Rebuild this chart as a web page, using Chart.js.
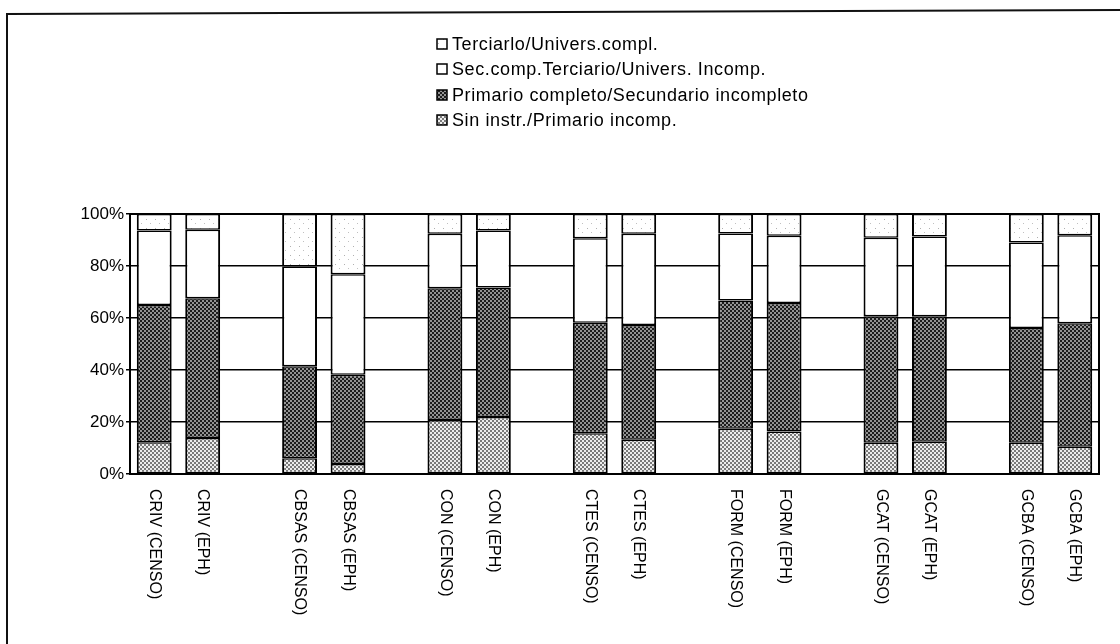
<!DOCTYPE html>
<html>
<head>
<meta charset="utf-8">
<script src="https://cdn.jsdelivr.net/npm/chart.js@4.4.1/dist/chart.umd.min.js"></script>
<style>
html,body{margin:0;padding:0;background:#fff;}
canvas{display:block;}
</style>
</head>
<body>
<canvas id="c" width="1120" height="644"></canvas>
<script>
// ---- data ----
const categories = ['CRIV (CENSO)','CRIV (EPH)','CBSAS (CENSO)','CBSAS (EPH)','CON (CENSO)','CON (EPH)',
  'CTES (CENSO)','CTES (EPH)','FORM (CENSO)','FORM (EPH)','GCAT (CENSO)','GCAT (EPH)','GCBA (CENSO)','GCBA (EPH)'];
const seriesNames = ['Sin instr./Primario incomp.','Primario completo/Secundario incompleto',
  'Sec.comp.Terciario/Univers. Incomp.','Terciarlo/Univers.compl.'];
const sinInstr  = [12.2, 13.8, 6.1, 3.8, 20.8, 21.9, 15.7, 13.2, 17.4, 16.3, 12.0, 12.4, 12.0, 10.5];
const primario  = [52.8, 53.8, 35.3, 34.4, 50.6, 49.8, 42.5, 44.1, 49.3, 49.5, 48.7, 48.3, 44.2, 47.5];
const secComp   = [28.7, 26.3, 38.4, 38.6, 21.0, 22.0, 32.5, 35.1, 25.8, 25.8, 30.2, 30.6, 32.8, 33.8];
const terciario = [6.3, 6.1, 20.2, 23.2, 7.6, 6.3, 9.3, 7.6, 7.5, 8.4, 9.1, 8.7, 11.0, 8.2];
const yTicks = [0, 20, 40, 60, 80, 100];

// build slotted labels (pair, pair, ... with an empty slot between pairs)
function slot(arr, gap) {
  const out = [];
  arr.forEach((v, i) => { out.push(v); if (i % 2 === 1 && i < arr.length - 1) out.push(gap); });
  return out;
}
const labels = slot(categories, '');

// ---- patterns ----
function makePattern(size, bg, dots) {
  const c = document.createElement('canvas');
  c.width = size; c.height = size;
  const g = c.getContext('2d');
  g.fillStyle = bg; g.fillRect(0, 0, size, size);
  dots.forEach(d => { g.fillStyle = d[4]; g.fillRect(d[0], d[1], d[2], d[3]); });
  return g.createPattern(c, 'repeat');
}
const patLight = makePattern(4, '#eeeeee', [[0,0,2,2,'#7a7a7a'],[2,2,2,2,'#7a7a7a']]);
const patDark = makePattern(4, '#1c1c1c', [[2,0,2,2,'#939393'],[0,2,2,2,'#939393']]);
const patDots = makePattern(9, '#ffffff', [[2,3,1,1,'#b0b0b0'],[6,7,1,1,'#c0c0c0']]);
const fills = [patLight, patDark, '#ffffff', patDots];

const FONT = '"Liberation Sans", Arial, sans-serif';

const bgPlugin = {
  id: 'bg',
  beforeDraw(chart) {
    const c = chart.ctx;
    c.save();
    c.fillStyle = '#fff';
    c.fillRect(0, 0, chart.width, chart.height);
    c.strokeStyle = '#111';
    c.lineWidth = 2;
    c.beginPath();
    c.moveTo(7, 644); c.lineTo(7, 14); c.lineTo(1120, 10);
    c.stroke();
    c.restore();
  },
  afterDatasetsDraw(chart) {
    const a = chart.chartArea, c = chart.ctx;
    c.save();
    c.strokeStyle = '#000';
    c.lineWidth = 2;
    c.strokeRect(a.left, a.top, a.right - a.left, a.bottom - a.top);
    c.restore();
  }
};

const xLabelPlugin = {
  id: 'xlabels',
  afterDraw(chart) {
    const sx = chart.scales.x, c = chart.ctx;
    c.save();
    c.font = '16px ' + FONT;
    c.fillStyle = '#000';
    c.textAlign = 'left';
    c.textBaseline = 'middle';
    chart.data.labels.forEach((lab, i) => {
      if (!lab) return;
      const x = sx.getPixelForValue(i);
      c.save();
      c.translate(x, chart.chartArea.bottom + 15);
      c.rotate(Math.PI / 2);
      c.fillText(lab, 0, 0);
      c.restore();
    });
    c.restore();
  }
};

const legendPlugin = {
  id: 'stackLegend',
  afterDraw(chart) {
    const c = chart.ctx;
    const ds = chart.data.datasets;
    const rows = [3, 2, 1, 0];
    const ys = [44, 69, 95, 120];
    c.save();
    c.font = '18px ' + FONT;
    c.letterSpacing = '0.6px';
    c.textAlign = 'left';
    c.textBaseline = 'middle';
    rows.forEach((di, r) => {
      const y = ys[r];
      c.fillStyle = ds[di].backgroundColor;
      c.fillRect(437, y - 5, 10, 10);
      c.strokeStyle = '#000';
      c.lineWidth = 1.5;
      c.strokeRect(437, y - 5, 10, 10);
      c.fillStyle = '#000';
      c.fillText(ds[di].label, 452, y + 1);
    });
    c.restore();
  }
};

new Chart(document.getElementById('c'), {
  type: 'bar',
  data: {
    labels: labels,
    datasets: [sinInstr, primario, secComp, terciario].map((arr, k) => ({
      label: seriesNames[k],
      data: slot(arr, null),
      backgroundColor: fills[k],
      borderColor: '#000',
      borderWidth: {left: 2, right: 2, top: 1.5, bottom: 1.5},
      borderSkipped: false,
      barPercentage: 0.72,
      categoryPercentage: 1.0
    }))
  },
  options: {
    responsive: false,
    animation: false,
    devicePixelRatio: 1,
    layout: {padding: {top: 214, right: 21, bottom: 170, left: 0}},
    plugins: {legend: {display: false}, tooltip: {enabled: false}},
    scales: {
      x: {
        stacked: true,
        grid: {display: false},
        border: {display: false},
        ticks: {display: false},
        afterFit(s) { s.height = 0; }
      },
      y: {
        stacked: true,
        min: 0, max: 100,
        afterBuildTicks(s) { s.ticks = yTicks.map(v => ({value: v})); },
        ticks: {
          callback: v => v + '%',
          color: '#000',
          padding: 2,
          font: {family: FONT, size: 17}
        },
        grid: {color: '#000', lineWidth: 1.5, tickLength: 4, drawTicks: true},
        border: {display: true, color: '#000', width: 2},
        afterFit(s) { s.width = 130; }
      }
    }
  },
  plugins: [bgPlugin, xLabelPlugin, legendPlugin]
});
</script>
</body>
</html>
